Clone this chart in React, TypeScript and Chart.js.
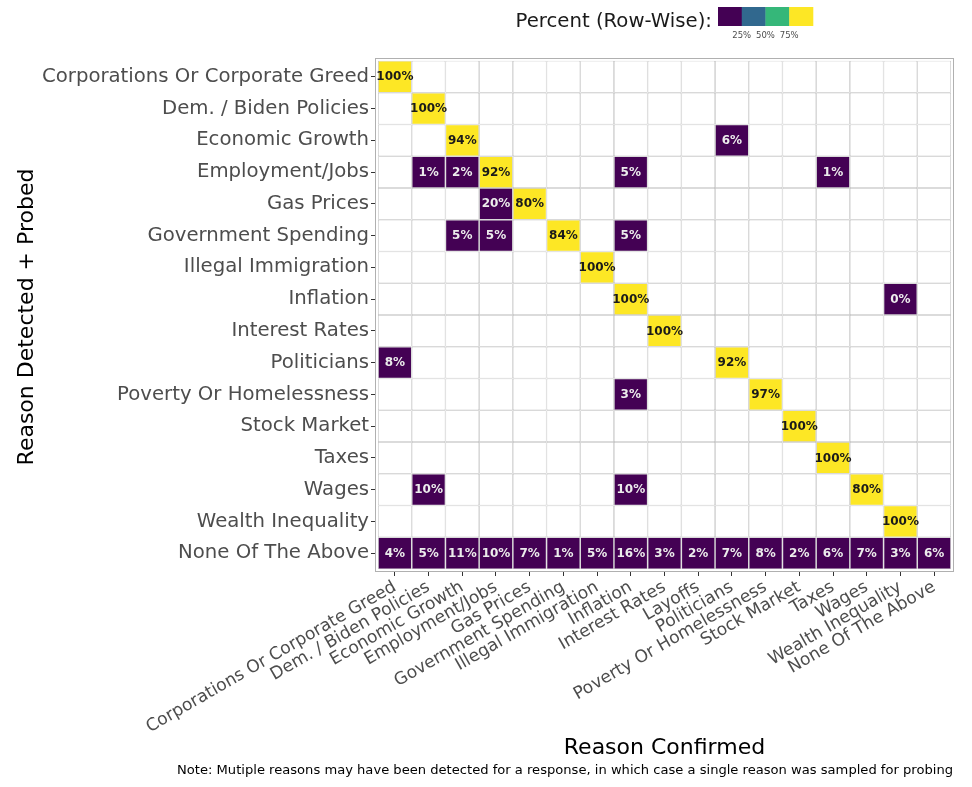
import React, { useEffect, useRef } from "react";
import { Chart, registerables } from "chart.js";

Chart.register(...registerables);

const colLabels = [
  "Corporations Or Corporate Greed",
  "Dem. / Biden Policies",
  "Economic Growth",
  "Employment/Jobs",
  "Gas Prices",
  "Government Spending",
  "Illegal Immigration",
  "Inflation",
  "Interest Rates",
  "Layoffs",
  "Politicians",
  "Poverty Or Homelessness",
  "Stock Market",
  "Taxes",
  "Wages",
  "Wealth Inequality",
  "None Of The Above",
];

const rowLabels = [
  "Corporations Or Corporate Greed",
  "Dem. / Biden Policies",
  "Economic Growth",
  "Employment/Jobs",
  "Gas Prices",
  "Government Spending",
  "Illegal Immigration",
  "Inflation",
  "Interest Rates",
  "Politicians",
  "Poverty Or Homelessness",
  "Stock Market",
  "Taxes",
  "Wages",
  "Wealth Inequality",
  "None Of The Above",
];

const _ = null;
// Each row: percent (row-wise) by confirmed reason column; null = no tile value
const rowCorporations = [100, _, _, _, _, _, _, _, _, _, _, _, _, _, _, _, _];
const rowDemBiden = [_, 100, _, _, _, _, _, _, _, _, _, _, _, _, _, _, _];
const rowEconomicGrowth = [_, _, 94, _, _, _, _, _, _, _, 6, _, _, _, _, _, _];
const rowEmployment = [_, 1, 2, 92, _, _, _, 5, _, _, _, _, _, 1, _, _, _];
const rowGasPrices = [_, _, _, 20, 80, _, _, _, _, _, _, _, _, _, _, _, _];
const rowGovSpending = [_, _, 5, 5, _, 84, _, 5, _, _, _, _, _, _, _, _, _];
const rowImmigration = [_, _, _, _, _, _, 100, _, _, _, _, _, _, _, _, _, _];
const rowInflation = [_, _, _, _, _, _, _, 100, _, _, _, _, _, _, _, 0, _];
const rowInterestRates = [_, _, _, _, _, _, _, _, 100, _, _, _, _, _, _, _, _];
const rowPoliticians = [8, _, _, _, _, _, _, _, _, _, 92, _, _, _, _, _, _];
const rowPoverty = [_, _, _, _, _, _, _, 3, _, _, _, 97, _, _, _, _, _];
const rowStockMarket = [_, _, _, _, _, _, _, _, _, _, _, _, 100, _, _, _, _];
const rowTaxes = [_, _, _, _, _, _, _, _, _, _, _, _, _, 100, _, _, _];
const rowWages = [_, 10, _, _, _, _, _, 10, _, _, _, _, _, _, 80, _, _];
const rowWealthInequality = [_, _, _, _, _, _, _, _, _, _, _, _, _, _, _, 100, _];
const rowNone = [4, 5, 11, 10, 7, 1, 5, 16, 3, 2, 7, 8, 2, 6, 7, 3, 6];

const rowValues = [
  rowCorporations,
  rowDemBiden,
  rowEconomicGrowth,
  rowEmployment,
  rowGasPrices,
  rowGovSpending,
  rowImmigration,
  rowInflation,
  rowInterestRates,
  rowPoliticians,
  rowPoverty,
  rowStockMarket,
  rowTaxes,
  rowWages,
  rowWealthInequality,
  rowNone,
];

const legendTitle = "Percent (Row-Wise):";
const legendBreaks = ["25%", "50%", "75%"];
const binColors = ["#440154", "#31688E", "#35B779", "#FDE725"];
const xTitle = "Reason Confirmed";
const yTitle = "Reason Detected + Probed";
const noteText =
  "Note: Mutiple reasons may have been detected for a response, in which case a single reason was sampled for probing";

const FONT = "'DejaVu Sans', 'Liberation Sans', sans-serif";

function binColor(v: number | null) {
  if (v === null) return "#ffffff";
  if (v < 25) return binColors[0];
  if (v < 50) return binColors[1];
  if (v < 75) return binColors[2];
  return binColors[3];
}

const labelsPlugin = {
  id: "cellLabels",
  afterDatasetsDraw(chart: any) {
    const ctx = chart.ctx;
    ctx.save();
    ctx.font = `bold 12px ${FONT}`;
    ctx.textAlign = "center";
    ctx.textBaseline = "middle";
    chart.data.datasets.forEach((ds: any, i: number) => {
      const meta = chart.getDatasetMeta(i);
      meta.data.forEach((el: any, j: number) => {
        const v = ds.values[j];
        if (v === null || v === undefined) return;
        const p = el.getCenterPoint();
        ctx.fillStyle = v >= 50 ? "#1a1a1a" : "#ececec";
        ctx.fillText(`${v}%`, p.x, p.y + 0.5);
      });
    });
    ctx.restore();
  },
};

const decorPlugin = {
  id: "decor",
  afterDraw(chart: any) {
    const ctx = chart.ctx;
    const a = chart.chartArea;
    ctx.save();
    // panel border
    ctx.strokeStyle = "#b0b0b0";
    ctx.lineWidth = 1;
    ctx.strokeRect(Math.round(a.left) + 0.5, Math.round(a.top) + 0.5, Math.round(a.right - a.left) - 1, Math.round(a.bottom - a.top) - 1);

    // legend
    ctx.fillStyle = "#1a1a1a";
    ctx.font = `19.7px ${FONT}`;
    ctx.textAlign = "right";
    ctx.textBaseline = "middle";
    ctx.fillText(legendTitle, 712, 22);
    const kx = 718, kw = 23.75, ky = 7, kh = 19;
    binColors.forEach((c, i) => {
      ctx.fillStyle = c;
      ctx.fillRect(kx + i * kw, ky, kw + 0.3, kh);
    });
    ctx.fillStyle = "#4d4d4d";
    ctx.font = `8.5px ${FONT}`;
    ctx.textAlign = "center";
    legendBreaks.forEach((t, i) => {
      ctx.fillText(t, kx + (i + 1) * kw, 36);
    });

    // axis titles
    ctx.fillStyle = "#000000";
    ctx.font = `22px ${FONT}`;
    ctx.textAlign = "center";
    ctx.textBaseline = "middle";
    ctx.fillText(xTitle, (a.left + a.right) / 2, 748);
    ctx.save();
    ctx.translate(27, (a.top + a.bottom) / 2 + 2);
    ctx.rotate(-Math.PI / 2);
    ctx.fillText(yTitle, 0, 0);
    ctx.restore();

    // note
    ctx.font = `13.1px ${FONT}`;
    ctx.textAlign = "right";
    ctx.fillText(noteText, 953, 771);
    ctx.restore();
  },
};

export default function App() {
  const ref = useRef<HTMLCanvasElement | null>(null);

  useEffect(() => {
    if (!ref.current) return;
    const datasets = rowValues.map((vals, r) => ({
      label: rowLabels[r],
      values: vals,
      data: vals.map((_v, c) => ({ x: c, y: [r - 0.5, r + 0.5] })),
      backgroundColor: vals.map((v) => binColor(v)),
      borderColor: "rgba(185,185,185,0.9)",
      borderWidth: 0.75,
      borderSkipped: false,
      inflateAmount: 0,
      grouped: false,
      barPercentage: 1,
      categoryPercentage: 1,
    }));

    const chart = new Chart(ref.current, {
      type: "bar",
      data: { datasets: datasets as any },
      plugins: [labelsPlugin, decorPlugin],
      options: {
        animation: false,
        responsive: false,
        maintainAspectRatio: false,
        layout: { padding: { left: 0, top: 58, right: 18, bottom: 0 } },
        plugins: { legend: { display: false }, tooltip: { enabled: false } },
        scales: {
          x: {
            type: "linear",
            offset: false,
            min: -0.59,
            max: 16.59,
            afterBuildTicks: (s: any) => {
              s.ticks = colLabels.map((_l, i) => ({ value: i }));
            },
            afterFit: (s: any) => {
              s.height = 215;
            },
            ticks: {
              autoSkip: false,
              minRotation: 30,
              maxRotation: 30,
              padding: 1,
              color: "#4d4d4d",
              font: { family: FONT, size: 17.2 },
              callback: (v: any) => colLabels[v] ?? "",
            },
            grid: { offset: false, drawOnChartArea: false, drawTicks: true, tickLength: 4, color: "#333333" },
            border: { display: false },
          },
          y: {
            type: "linear",
            offset: false,
            reverse: true,
            min: -0.59,
            max: 15.59,
            afterBuildTicks: (s: any) => {
              s.ticks = rowLabels.map((_l, i) => ({ value: i }));
            },
            afterFit: (s: any) => {
              s.width = 375;
            },
            ticks: {
              autoSkip: false,
              padding: 2,
              color: "#4d4d4d",
              font: { family: FONT, size: 19.7 },
              callback: (v: any) => rowLabels[v] ?? "",
            },
            grid: { offset: false, drawOnChartArea: false, drawTicks: true, tickLength: 4, color: "#333333" },
            border: { display: false },
          },
        },
      } as any,
    });
    return () => chart.destroy();
  }, []);

  return (
    <div style={{ position: "absolute", left: 0, top: 0, width: 972, height: 787, background: "#ffffff" }}>
      <canvas ref={ref} width={972} height={787} style={{ width: 972, height: 787, display: "block" }} />
    </div>
  );
}
